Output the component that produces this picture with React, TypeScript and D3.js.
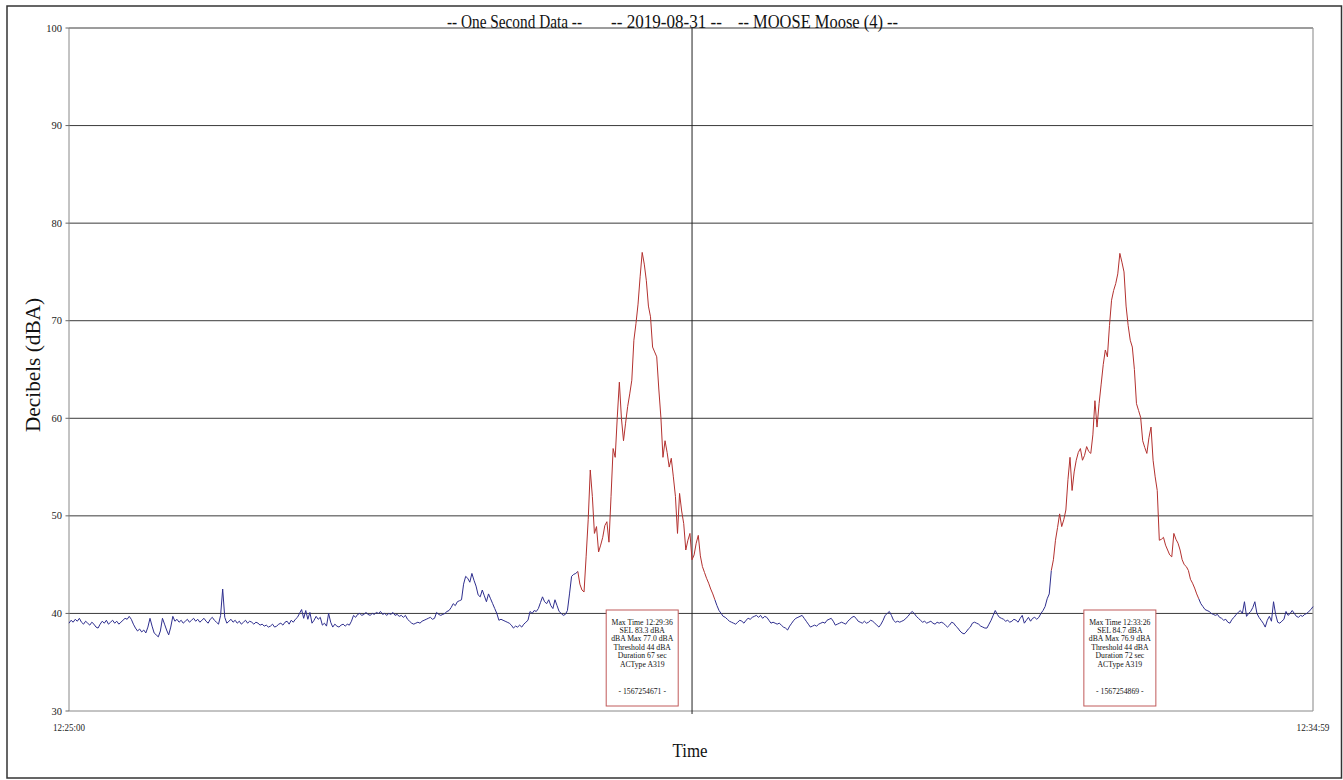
import React from "react";
import * as d3 from "d3";

// One-second sound level samples (dBA), one array per minute starting 12:25:00
const min25 = [
  39.0, 39.3, 39.1, 39.4, 39.2, 39.5, 39.1, 38.9, 39.2, 39.0,
  38.8, 39.1, 38.9, 38.6, 38.5, 38.9, 39.2, 39.0, 39.3, 38.9,
  39.1, 39.3, 39.0, 39.2, 38.9, 39.1, 39.3, 39.5, 39.4, 39.7,
  39.4, 38.9, 38.5, 38.2, 38.4, 38.1, 38.3, 38.0, 38.6, 39.5,
  38.7, 38.0, 37.8, 37.6, 38.2, 39.5, 38.9, 38.3, 37.8, 38.6,
  39.7, 39.2, 39.4, 39.1, 39.3, 39.0, 39.2, 39.4, 39.1, 39.3,
];
const min26 = [
  39.5, 39.2, 39.4, 39.1, 39.3, 39.5, 39.2, 39.0, 39.4, 39.6,
  39.3, 39.1, 38.9, 39.8, 42.5, 39.6, 39.0, 39.2, 39.4, 39.1,
  39.3, 39.0, 39.2, 38.9, 39.1, 39.3, 39.0, 39.2, 39.1, 38.9,
  39.1, 39.0, 38.8, 38.9, 38.7, 38.8, 38.6, 38.7, 38.9, 38.6,
  38.7, 38.9, 39.0, 38.8, 39.1, 39.2, 38.9, 39.3, 39.1, 39.4,
  39.6, 40.0, 40.4, 39.5, 40.3, 39.4, 40.1, 39.0, 39.3, 39.7,
];
const min27 = [
  39.4, 39.6, 38.8, 39.0, 38.7, 40.0, 39.1, 38.6, 38.9, 38.7,
  38.6, 38.8, 38.9, 38.7, 38.9, 38.8, 39.2, 39.8, 39.6, 39.9,
  40.0, 39.8, 39.9, 40.1, 39.9, 39.8, 40.0, 39.9, 40.1, 40.0,
  40.2, 39.9, 40.0, 39.8, 40.0, 39.9, 40.1, 39.8, 39.9, 39.7,
  39.8, 39.6, 39.8, 39.4, 39.2, 39.0, 38.9, 39.0, 39.1, 39.0,
  39.2, 39.3, 39.4, 39.5, 39.6, 39.4, 39.5, 40.1, 39.9, 39.8,
];
const min28 = [
  39.9, 40.0, 40.2, 40.3, 40.6, 41.0, 40.8, 41.2, 41.3, 41.4,
  43.0, 43.8, 43.6, 43.2, 44.1, 43.4, 42.8, 41.9, 41.7, 42.4,
  41.8, 41.2, 42.0, 41.5, 41.0, 40.5, 40.0, 39.3, 39.4, 39.3,
  39.2, 39.1, 39.0, 38.8, 38.5, 38.7, 38.6, 38.8, 38.6, 38.9,
  39.1, 39.3, 40.2, 40.0, 40.3, 40.2, 40.5, 41.1, 41.7, 41.2,
  41.0, 41.4, 40.8, 40.5, 41.4, 40.8, 40.2, 40.0, 39.8, 39.9,
];
const min29 = [
  40.3, 42.0, 43.8, 44.0, 44.1, 44.3, 43.0, 42.4, 42.2, 45.8,
  49.6, 54.7, 52.0, 48.2, 48.9, 46.3, 47.0, 47.8, 49.0, 49.4,
  47.3, 52.0, 56.9, 56.0, 60.1, 63.7, 60.0, 57.7, 59.5, 61.2,
  62.5, 63.9, 68.0, 69.7, 71.7, 74.5, 77.0, 75.8, 74.1, 71.5,
  70.4, 67.3, 66.8, 66.3, 63.0, 60.1, 56.0, 57.7, 56.5, 55.0,
  55.9, 54.0, 52.0, 48.2, 52.3, 50.5, 49.2, 46.5, 47.5, 48.2,
];
const min30 = [
  45.5, 46.0, 47.2, 48.0, 45.9, 44.8, 44.2, 43.6, 43.1, 42.5,
  42.0, 41.4, 40.8, 40.3, 40.0, 39.7, 39.6, 39.4, 39.2, 39.1,
  39.0, 38.9, 39.1, 39.3, 39.2, 39.0, 39.3, 39.5, 39.4, 39.6,
  39.7, 39.8, 39.6, 39.8, 39.5, 39.7, 39.6, 39.3, 39.0, 39.1,
  39.0, 38.9, 39.0, 38.8, 38.6, 38.5, 38.3, 38.7, 39.0, 39.3,
  39.5, 39.6, 39.7, 39.8, 39.5, 39.2, 38.9, 38.6, 38.7, 38.8,
];
const min31 = [
  38.7, 38.9, 39.0, 39.1, 39.0, 39.3, 39.4, 39.5, 39.2, 38.8,
  38.9, 39.0, 39.1, 39.0, 38.9, 39.2, 39.4, 39.6, 39.7, 39.5,
  39.2, 39.1, 39.0, 39.2, 39.0, 39.1, 39.3, 39.2, 39.0, 38.8,
  38.6, 38.9, 39.3, 39.8, 40.0, 40.2, 39.8, 39.3, 39.1, 39.2,
  39.1, 39.2, 39.3, 39.5, 39.7, 40.0, 40.2, 40.0, 39.7, 39.5,
  39.3, 39.1, 39.2, 39.0, 39.1, 39.2, 39.0, 38.9, 39.1, 39.0,
];
const min32 = [
  39.1, 39.0, 38.8, 38.6, 38.8, 39.1, 39.0, 38.7, 38.5, 38.2,
  38.0, 37.9, 38.1, 38.4, 38.6, 39.0, 39.1, 39.0, 38.9, 38.7,
  38.6, 38.5, 38.5, 38.9, 39.3, 39.8, 40.3, 39.9, 39.6, 39.5,
  39.4, 39.2, 39.3, 39.1, 39.2, 39.4, 39.3, 39.1, 39.5, 39.8,
  39.0, 39.3, 39.6, 39.2, 39.5, 39.6, 39.4, 39.6, 40.0, 40.3,
  40.7, 41.5, 42.0, 44.4, 45.5, 47.5, 48.8, 50.2, 48.9, 49.6,
];
const min33 = [
  50.6, 53.7, 56.0, 52.6, 54.5, 55.7, 56.5, 56.9, 55.7, 56.2,
  57.1, 56.6, 56.4, 58.3, 61.8, 59.1, 61.5, 63.5, 65.5, 67.0,
  66.3, 69.5, 72.1, 73.1, 73.8, 74.8, 76.9, 76.0, 75.0, 71.5,
  69.5, 68.0, 67.3, 65.0, 61.5, 60.8, 60.1, 57.7, 57.0, 56.4,
  58.0, 59.1, 55.7, 54.0, 52.6, 47.5, 47.6, 47.8, 47.0, 46.5,
  46.0, 45.8, 48.2, 47.6, 47.2, 46.5, 45.5, 45.0, 44.8, 44.4,
];
const min34 = [
  43.5, 43.1, 42.6, 42.0, 41.5, 41.0, 40.7, 40.4, 40.3, 40.2,
  40.0, 39.9, 39.8, 39.9, 39.6, 39.5, 39.3, 39.4, 39.1, 39.0,
  39.4, 39.6, 39.9, 40.1, 40.3, 40.0, 41.2, 39.7, 40.0, 40.2,
  40.6, 41.2, 40.0, 39.6, 39.3, 39.0, 38.6, 39.3, 39.7, 39.2,
  41.2, 39.9, 39.1, 39.0, 39.2, 39.4, 40.2, 39.8, 40.0, 40.3,
  40.0, 39.7, 39.6, 39.8, 39.7, 39.9, 40.0, 40.2, 40.4, 40.7,
];

const yTicks = [30, 40, 50, 60, 70, 80, 90, 100];
const xTickLabels = ["12:25:00", "12:34:59"];
const titleParts = ["-- One Second Data --", "-- 2019-08-31 --", "-- MOOSE Moose (4) --"];

// Noise events (second index from 12:25:00)
const eventStart = [245, 473];
const eventEnd = [311, 544];
const eventMaxSec = [276, 506];
const eventLabels = [
  ["Max Time 12:29:36", "SEL 83.3 dBA", "dBA Max 77.0 dBA", "Threshold 44 dBA", "Duration 67 sec", "ACType A319"],
  ["Max Time 12:33:26", "SEL 84.7 dBA", "dBA Max 76.9 dBA", "Threshold 44 dBA", "Duration 72 sec", "ACType A319"],
];
const eventIds = ["- 1567254671 -", "- 1567254869 -"];

const W = 1343;
const H = 780;
const left = 69;
const right = 1313;
const top = 28;
const bottom = 711;
const serif = "'Liberation Serif', 'Times New Roman', serif";

export default function App() {
  const values = [...min25, ...min26, ...min27, ...min28, ...min29, ...min30, ...min31, ...min32, ...min33, ...min34];
  const data = values.map((v, i) => ({ t: i, v }));
  const x = d3.scaleLinear().domain([0, values.length - 1]).range([left, right]);
  const y = d3.scaleLinear().domain([30, 100]).range([bottom, top]);
  const line = d3.line<{ t: number; v: number }>().x((d) => x(d.t)).y((d) => y(d.v));

  const segs: { from: number; to: number; red: boolean }[] = [];
  let cur = 0;
  eventStart.forEach((s, i) => {
    segs.push({ from: cur, to: s, red: false });
    segs.push({ from: s, to: eventEnd[i], red: true });
    cur = eventEnd[i];
  });
  segs.push({ from: cur, to: values.length - 1, red: false });

  const boxW = 72;
  const boxH = 96;
  const boxTop = 610;
  const midX = x(300);

  return (
    <svg width={W} height={H} style={{ position: "absolute", left: 0, top: 0, background: "#fff" }}>
      <rect x={0} y={0} width={W} height={H} fill="#fff" />
      <rect x={7} y={6} width={1334.5} height={772} fill="none" stroke="#333" strokeWidth={1.5} />

      {yTicks.map((t) => (
        <line key={"g" + t} x1={left} x2={right} y1={y(t)} y2={y(t)} stroke={t === 30 ? "#888" : "#3a3a3a"} strokeWidth={1} />
      ))}
      <line x1={left} x2={left} y1={top} y2={bottom} stroke="#888" strokeWidth={1} />
      <line x1={right} x2={right} y1={top} y2={bottom} stroke="#999" strokeWidth={1.2} />
      {yTicks.map((t) => (
        <g key={"t" + t}>
          <line x1={left - 3.5} x2={left} y1={y(t)} y2={y(t)} stroke="#666" />
          <text x={62} y={y(t) + 3.5} textAnchor="end" fontFamily={serif} fontSize={10.5} fill="#222">
            {t}
          </text>
        </g>
      ))}

      <line x1={midX} x2={midX} y1={top} y2={bottom + 3} stroke="#222" strokeWidth={1} />

      {segs.map((s, i) => (
        <path
          key={"s" + i}
          d={line(data.slice(s.from, s.to + 1)) || ""}
          fill="none"
          stroke={s.red ? "#b3312f" : "#2e2e8e"}
          strokeWidth={1}
          strokeLinejoin="round"
        />
      ))}

      {eventMaxSec.map((m, i) => {
        const cx = x(m);
        return (
          <g key={"b" + i}>
            <rect x={cx - boxW / 2} y={boxTop} width={boxW} height={boxH} fill="#fff" stroke="#c05a5a" strokeWidth={1} />
            {eventLabels[i].map((l, j) => (
              <text
                key={j}
                transform={`translate(${cx}, ${boxTop + 14.5 + j * 8.4}) scale(0.93, 1)`}
                textAnchor="middle"
                fontFamily={serif}
                fontSize={8.3}
                fill="#111"
              >
                {l}
              </text>
            ))}
            <text
              transform={`translate(${cx}, ${boxTop + 84}) scale(0.93, 1)`}
              textAnchor="middle"
              fontFamily={serif}
              fontSize={8.3}
              fill="#111"
            >
              {eventIds[i]}
            </text>
          </g>
        );
      })}

      <text x={x(0)} y={731} textAnchor="middle" fontFamily={serif} fontSize={10.5} fill="#222" textLength={32} lengthAdjust="spacingAndGlyphs">
        {xTickLabels[0]}
      </text>
      <text x={x(values.length - 1)} y={731} textAnchor="middle" fontFamily={serif} fontSize={10.5} fill="#222" textLength={33} lengthAdjust="spacingAndGlyphs">
        {xTickLabels[1]}
      </text>

      <text x={447} y={28} fontFamily={serif} fontSize={19} fill="#111" textLength={135} lengthAdjust="spacingAndGlyphs">
        {titleParts[0]}
      </text>
      <text x={611} y={28} fontFamily={serif} fontSize={19} fill="#111" textLength={111} lengthAdjust="spacingAndGlyphs">
        {titleParts[1]}
      </text>
      <text x={738} y={28} fontFamily={serif} fontSize={19} fill="#111" textLength={160} lengthAdjust="spacingAndGlyphs">
        {titleParts[2]}
      </text>

      <text
        transform={`translate(40, 365) rotate(-90)`}
        textAnchor="middle"
        fontFamily={serif}
        fontSize={20}
        fill="#111"
        textLength={134}
        lengthAdjust="spacingAndGlyphs"
      >
        Decibels (dBA)
      </text>
      <text x={690} y={757} textAnchor="middle" fontFamily={serif} fontSize={19} fill="#111" textLength={35} lengthAdjust="spacingAndGlyphs">
        Time
      </text>
    </svg>
  );
}
